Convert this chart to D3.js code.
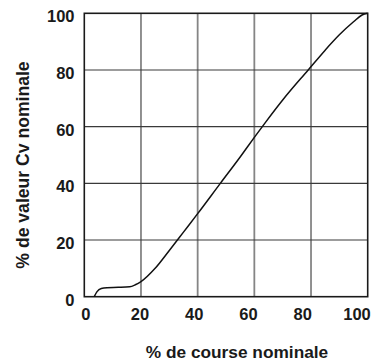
<!DOCTYPE html>
<html><head><meta charset="utf-8">
<script src="https://cdn.jsdelivr.net/npm/d3@7"></script>
<style>
html,body{margin:0;padding:0;background:#fff;}
svg{display:block;font-family:"Liberation Sans",Arial,Helvetica,sans-serif;}
</style></head>
<body><svg id="c" width="372" height="362"></svg>
<script>
const travel = [3.5, 4.5, 6, 8, 12, 16, 18, 20, 25, 30, 35, 40, 48, 55, 60, 64, 70, 79, 85, 90, 95, 98, 100];
const cv     = [0, 1.8, 2.9, 3.2, 3.3, 3.5, 4.2, 5.3, 10, 16.3, 22.8, 29.3, 40, 49.3, 56.2, 61.6, 69.4, 80, 87, 92.4, 97, 99.4, 100];
const xTicks = [0, 20, 40, 60, 80, 100];
const yTicks = [0, 20, 40, 60, 80, 100];
const xTitle = "% de course nominale";
const yTitle = "% de valeur Cv nominale";

const svg = d3.select("#c");
const L = 84.3, R = 367.7, T = 13.3, B = 296.7;
const x = d3.scaleLinear().domain([0, 100]).range([L, R]);
const y = d3.scaleLinear().domain([0, 100]).range([B, T]);
const xLab = d3.scaleLinear().domain([0, 100]).range([85.8, 357]);

// vertical grid (grey)
svg.append("g").selectAll("line").data(xTicks.slice(1, -1)).join("line")
  .attr("x1", d => x(d)).attr("x2", d => x(d)).attr("y1", T).attr("y2", B)
  .attr("stroke", "#858585").attr("stroke-width", 1.8);
// horizontal grid (dark)
svg.append("g").selectAll("line").data(yTicks.slice(1, -1)).join("line")
  .attr("x1", L).attr("x2", R).attr("y1", d => y(d)).attr("y2", d => y(d))
  .attr("stroke", "#3a3a3a").attr("stroke-width", 1.1);

// frame
svg.append("rect").attr("x", L).attr("y", T).attr("width", R - L).attr("height", B - T)
  .attr("fill", "none").attr("stroke", "#1a1a1a").attr("stroke-width", 1.6);

// curve
const line = d3.line().x((d, i) => x(travel[i])).y(d => y(d)).curve(d3.curveMonotoneX);
svg.append("path").datum(cv).attr("d", line)
  .attr("fill", "none").attr("stroke", "#111").attr("stroke-width", 1.5);

// tick labels
svg.append("g").selectAll("text").data(xTicks).join("text")
  .attr("x", d => xLab(d)).attr("y", 319.7).attr("text-anchor", "middle")
  .attr("font-size", 16.5).attr("font-weight", "bold").attr("fill", "#1a1a1a")
  .text(d => d);
svg.append("g").selectAll("text").data(yTicks).join("text")
  .attr("x", 74.5).attr("y", d => y(d) + 3).attr("dy", "0.36em").attr("text-anchor", "end")
  .attr("font-size", 16.5).attr("font-weight", "bold").attr("fill", "#1a1a1a")
  .text(d => d);

// titles
svg.append("text").attr("x", 237).attr("y", 357.5).attr("text-anchor", "middle")
  .attr("font-size", 17.3).attr("font-weight", "bold").attr("fill", "#1a1a1a").text(xTitle);
svg.append("text").attr("transform", "translate(29,165) rotate(-90)").attr("text-anchor", "middle")
  .attr("font-size", 17.6).attr("font-weight", "bold").attr("fill", "#1a1a1a").text(yTitle);
</script></body></html>
